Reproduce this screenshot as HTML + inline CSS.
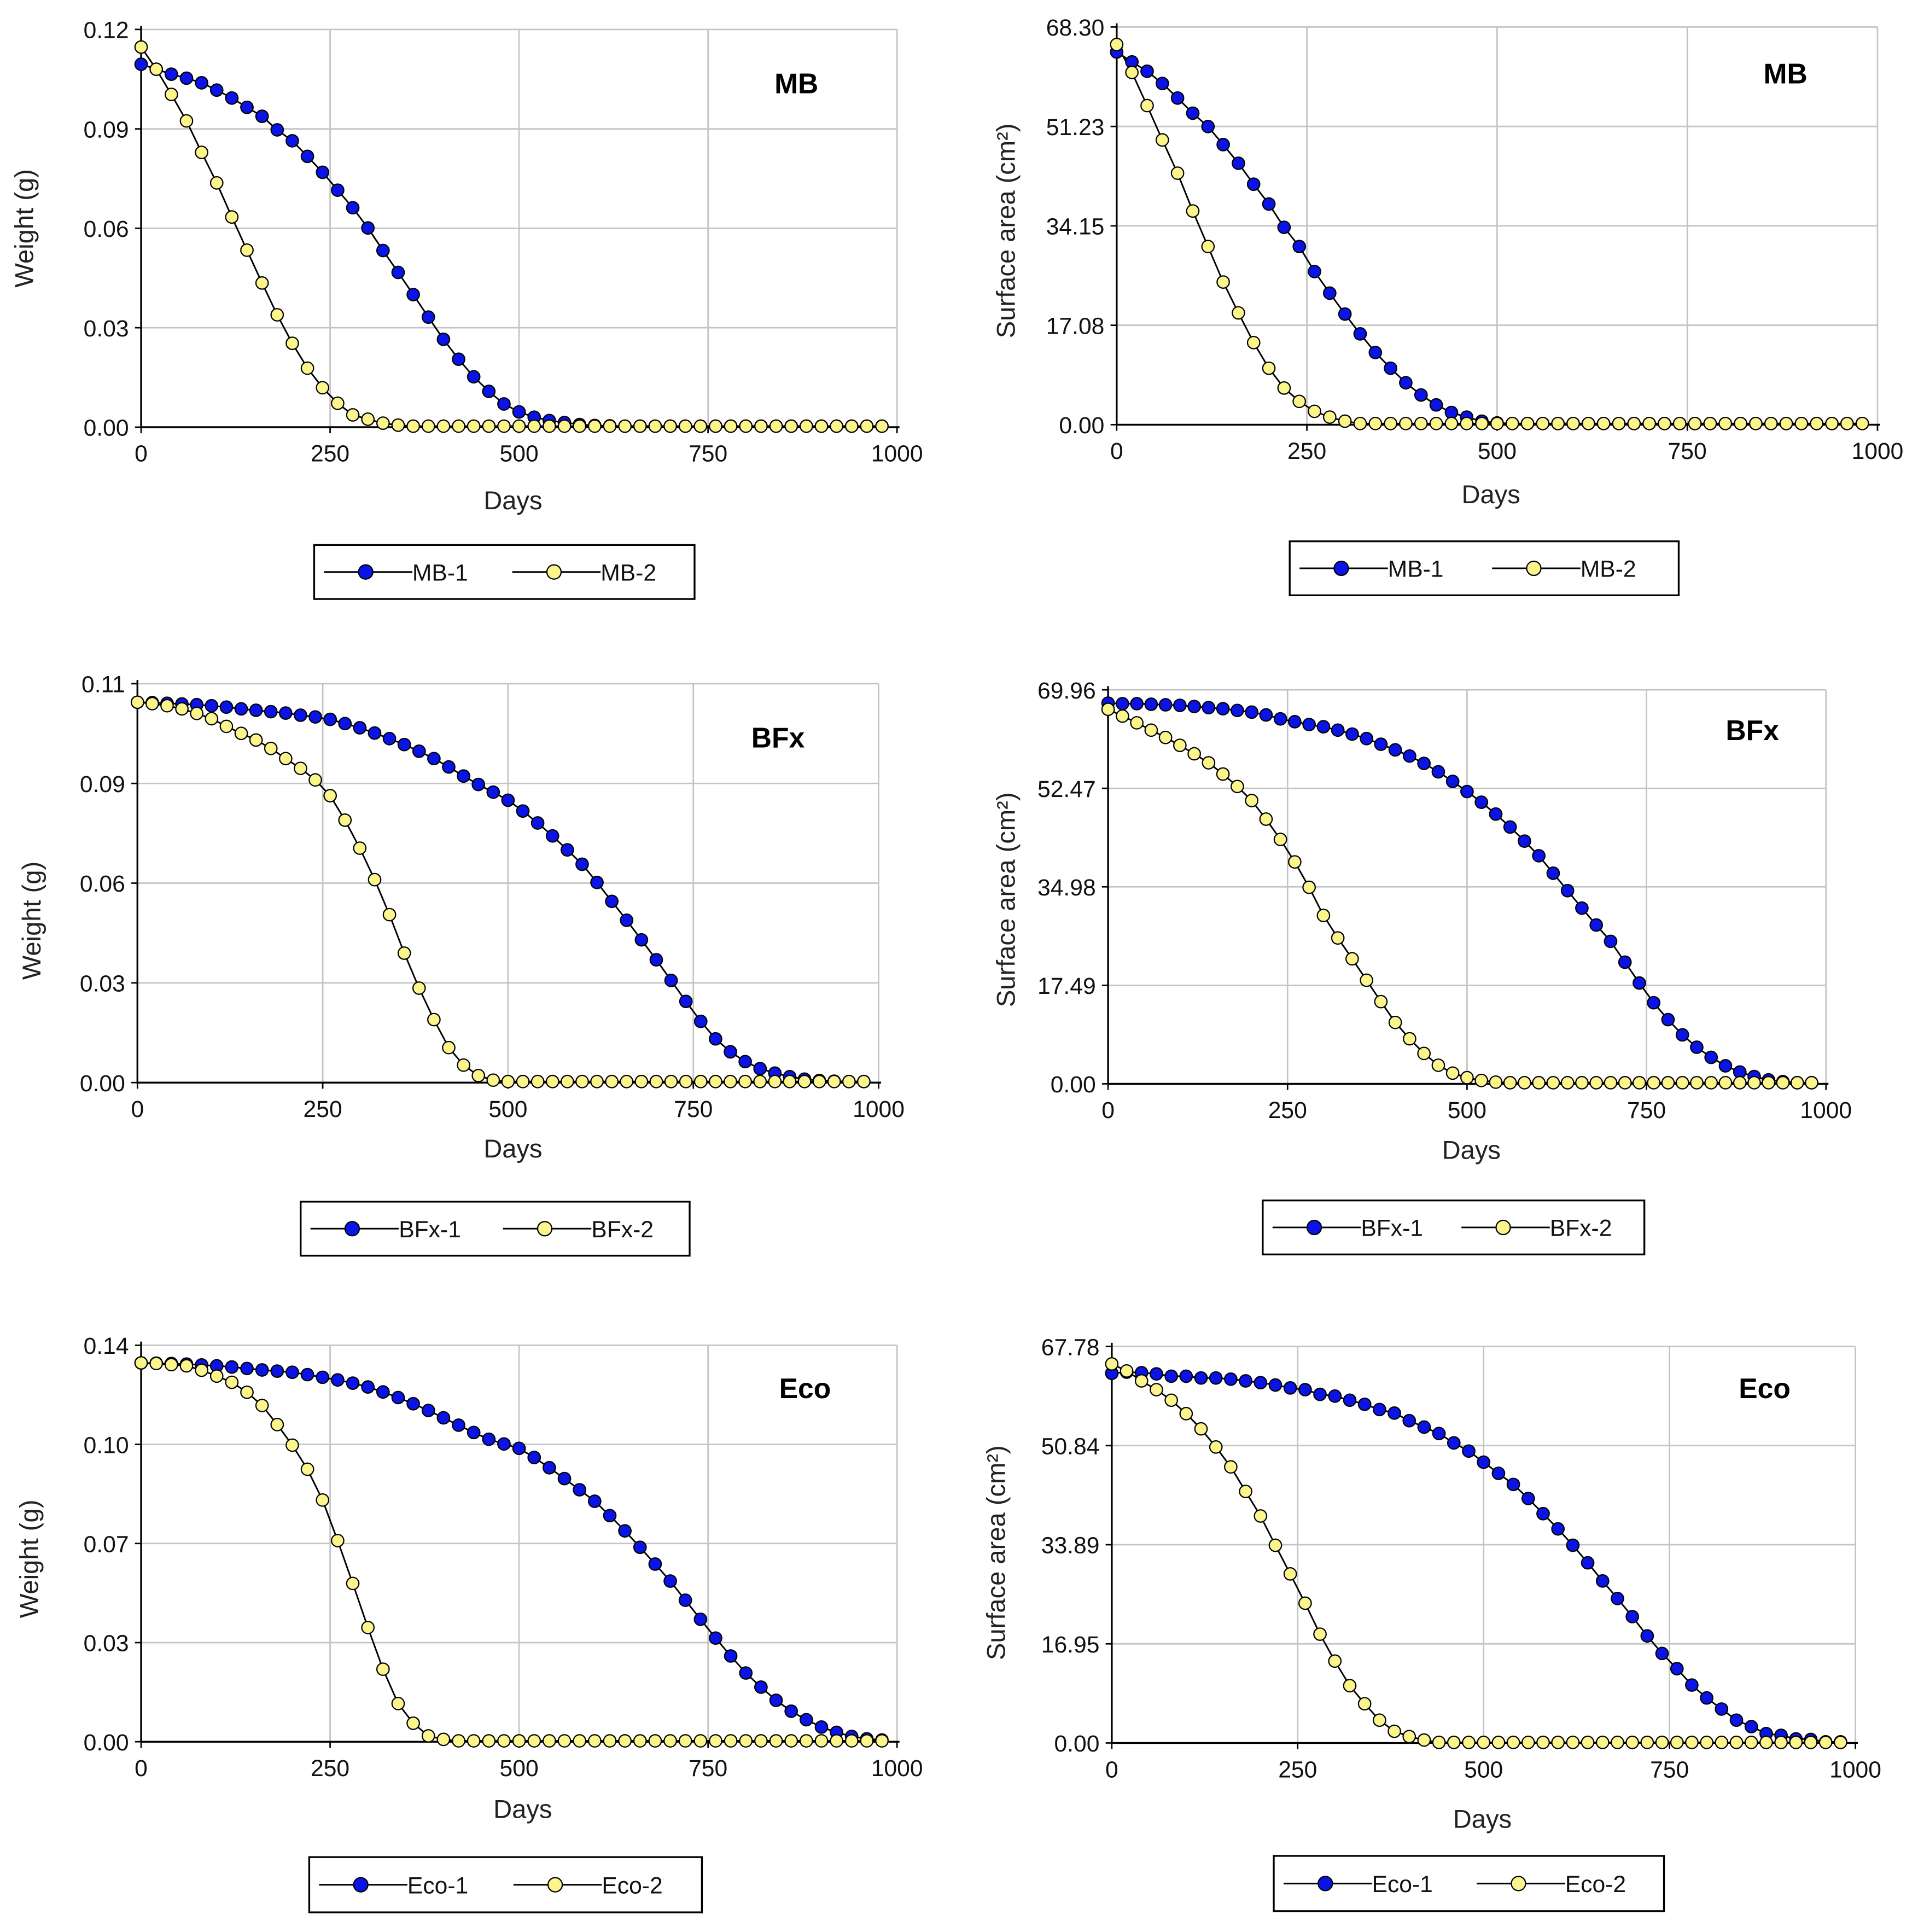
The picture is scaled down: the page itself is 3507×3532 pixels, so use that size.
<!DOCTYPE html>
<html><head><meta charset="utf-8"><style>
html,body{margin:0;padding:0;background:#fff}
svg{display:block}
text{font-family:"Liberation Sans Narrow","Liberation Sans",sans-serif}
</style></head><body>
<svg id="fig" width="3507" height="3532" viewBox="0 0 1563 1574" preserveAspectRatio="none" xmlns="http://www.w3.org/2000/svg"></svg>
<script>
const days = [0,20,40,60,80,100,120,140,160,180,200,220,240,260,280,300,320,340,360,380,400,420,440,460,480,500,520,540,560,580,600,620,640,660,680,700,720,740,760,780,800,820,840,860,880,900,920,940,960,980];
const xTicks = [0,250,500,750,1000];
const xTickLabels = ["0","250","500","750","1000"];

const mb1w = [0.1095,0.108,0.1065,0.1053,0.1039,0.1017,0.0993,0.0965,0.0938,0.0897,0.0864,0.0817,0.0769,0.0715,0.0662,0.0601,0.0533,0.0467,0.0400,0.0332,0.0265,0.0205,0.0152,0.0108,0.0070,0.0046,0.0030,0.0020,0.0014,0.0008,0.0005,0.0004,0.0003,0.0003,0.0003,0.0003,0.0003,0.0003,0.0003,0.0003,0.0003,0.0003,0.0003,0.0003,0.0003,0.0003,0.0003,0.0003,0.0003,0.0003];
const mb2w = [0.1147,0.108,0.1004,0.0924,0.0829,0.0737,0.0634,0.0534,0.0435,0.0339,0.0253,0.0178,0.0119,0.0072,0.0037,0.0024,0.0012,0.0006,0.0003,0.0003,0.0003,0.0003,0.0003,0.0003,0.0003,0.0003,0.0003,0.0003,0.0003,0.0003,0.0003,0.0003,0.0003,0.0003,0.0003,0.0003,0.0003,0.0003,0.0003,0.0003,0.0003,0.0003,0.0003,0.0003,0.0003,0.0003,0.0003,0.0003,0.0003,0.0003];
const mb1s = [64.0,62.3,60.7,58.6,56.1,53.5,51.2,48.1,44.9,41.3,37.9,33.9,30.6,26.3,22.6,19.0,15.6,12.4,9.7,7.2,5.1,3.4,2.1,1.3,0.6,0.3,0.2,0.2,0.2,0.2,0.2,0.2,0.2,0.2,0.2,0.2,0.2,0.2,0.2,0.2,0.2,0.2,0.2,0.2,0.2,0.2,0.2,0.2,0.2,0.2];
const mb2s = [65.3,60.5,54.8,48.9,43.2,36.7,30.6,24.5,19.2,14.1,9.7,6.3,4.0,2.3,1.3,0.6,0.2,0.2,0.2,0.2,0.2,0.2,0.2,0.2,0.2,0.2,0.2,0.2,0.2,0.2,0.2,0.2,0.2,0.2,0.2,0.2,0.2,0.2,0.2,0.2,0.2,0.2,0.2,0.2,0.2,0.2,0.2,0.2,0.2,0.2];
const bfx1w = [0.1087,0.1086,0.1084,0.1082,0.1080,0.1077,0.1073,0.1068,0.1064,0.1060,0.1056,0.1050,0.1045,0.1038,0.1026,0.1014,0.0999,0.0983,0.0966,0.0947,0.0926,0.0902,0.0876,0.0852,0.0830,0.0807,0.0776,0.0742,0.0705,0.0665,0.0624,0.0572,0.0518,0.0464,0.0408,0.0351,0.0292,0.0232,0.0175,0.0125,0.0088,0.0060,0.0040,0.0027,0.0017,0.0010,0.0006,0.0004,0.0003,0.0003];
const bfx2w = [0.1087,0.1083,0.1077,0.1068,0.1055,0.1040,0.1018,0.0998,0.0979,0.0955,0.0926,0.0898,0.0865,0.0820,0.0750,0.0670,0.0580,0.0480,0.0370,0.0270,0.0180,0.0100,0.0050,0.0020,0.0007,0.0003,0.0003,0.0003,0.0003,0.0003,0.0003,0.0003,0.0003,0.0003,0.0003,0.0003,0.0003,0.0003,0.0003,0.0003,0.0003,0.0003,0.0003,0.0003,0.0003,0.0003,0.0003,0.0003,0.0003,0.0003];
const bfx1s = [67.6,67.5,67.5,67.4,67.3,67.2,67.0,66.8,66.6,66.3,66.0,65.5,64.8,64.3,63.8,63.4,62.8,62.1,61.3,60.3,59.3,58.2,56.9,55.4,53.7,51.9,50.0,47.9,45.6,43.1,40.5,37.4,34.3,31.2,28.2,25.3,21.6,17.9,14.4,11.4,8.7,6.5,4.7,3.2,2.1,1.3,0.7,0.4,0.2,0.2];
const bfx2s = [66.5,65.3,64.1,62.8,61.5,60.1,58.6,57.0,55.0,52.8,50.3,47.0,43.4,39.4,34.9,29.9,25.9,22.2,18.4,14.6,10.9,8.0,5.4,3.3,1.9,1.1,0.6,0.3,0.2,0.2,0.2,0.2,0.2,0.2,0.2,0.2,0.2,0.2,0.2,0.2,0.2,0.2,0.2,0.2,0.2,0.2,0.2,0.2,0.2,0.2];
const eco1w = [0.1290,0.1289,0.1288,0.1286,0.1283,0.1280,0.1276,0.1271,0.1266,0.1262,0.1258,0.1250,0.1241,0.1232,0.1221,0.1208,0.1191,0.1172,0.1151,0.1128,0.1103,0.1078,0.1053,0.1030,0.1014,0.0999,0.0968,0.0933,0.0896,0.0858,0.0819,0.0770,0.0718,0.0662,0.0605,0.0547,0.0482,0.0417,0.0353,0.0292,0.0234,0.0186,0.0141,0.0104,0.0075,0.0050,0.0032,0.0018,0.0010,0.0006];
const eco2w = [0.1290,0.1288,0.1284,0.1280,0.1265,0.1245,0.1224,0.1190,0.1145,0.1080,0.1010,0.0928,0.0823,0.0685,0.0539,0.0389,0.0247,0.0130,0.0063,0.0020,0.0008,0.0003,0.0003,0.0003,0.0003,0.0003,0.0003,0.0003,0.0003,0.0003,0.0003,0.0003,0.0003,0.0003,0.0003,0.0003,0.0003,0.0003,0.0003,0.0003,0.0003,0.0003,0.0003,0.0003,0.0003,0.0003,0.0003,0.0003,0.0003,0.0003];
const eco1s = [63.2,63.4,63.3,63.1,62.7,62.7,62.4,62.4,62.2,61.9,61.6,61.2,60.7,60.4,59.6,59.3,58.6,57.9,57.0,56.4,55.1,54.0,52.9,51.3,49.9,48.0,46.1,44.2,41.8,39.2,36.6,33.8,30.8,27.7,24.7,21.6,18.3,15.3,12.7,9.9,7.7,5.8,3.9,2.8,1.6,1.3,0.7,0.6,0.2,0.2];
const eco2s = [64.8,63.6,61.9,60.4,58.6,56.3,53.7,50.6,47.2,43.0,38.8,33.8,28.9,23.9,18.6,14.0,9.8,6.7,3.9,2.0,1.1,0.5,0.1,0.1,0.1,0.1,0.1,0.1,0.1,0.1,0.1,0.1,0.1,0.1,0.1,0.1,0.1,0.1,0.1,0.1,0.1,0.1,0.1,0.1,0.1,0.1,0.1,0.1,0.1,0.1];

const yMaxes = [0.12,68.30,0.114,69.96,0.135,67.78];
const yTickLabelsMBw = ["0.00","0.03","0.06","0.09","0.12"];
const yTickLabelsMBs = ["0.00","17.08","34.15","51.23","68.30"];
const yTickLabelsBFw = ["0.00","0.03","0.06","0.09","0.11"];
const yTickLabelsBFs = ["0.00","17.49","34.98","52.47","69.96"];
const yTickLabelsEcow = ["0.00","0.03","0.07","0.10","0.14"];
const yTickLabelsEcos = ["0.00","16.95","33.89","50.84","67.78"];
const titles = ["MB","MB","BFx","BFx","Eco","Eco"];
const seriesNames = [["MB-1","MB-2"],["MB-1","MB-2"],["BFx-1","BFx-2"],["BFx-1","BFx-2"],["Eco-1","Eco-2"],["Eco-1","Eco-2"]];

const layouts = [
 {x0:115,x1:731,top:24,bot:348,tx:649,ty:68,ylx:20,yly:186,dx:418,dy:408,lg:[256,444,566,488],yl:"Weight (g)",data:[mb1w,mb2w],tl:yTickLabelsMBw},
 {x0:910,x1:1530,top:22,bot:346,tx:1455,ty:60,ylx:820,yly:188,dx:1215,dy:403,lg:[1051,441,1368,485],yl:"Surface area (cm²)",data:[mb1s,mb2s],tl:yTickLabelsMBs},
 {x0:112,x1:716,top:557,bot:882,tx:634,ty:601,ylx:26,yly:750,dx:418,dy:936,lg:[245,979,562,1023],yl:"Weight (g)",data:[bfx1w,bfx2w],tl:yTickLabelsBFw},
 {x0:903,x1:1488,top:562,bot:883,tx:1428,ty:595,ylx:820,yly:733,dx:1199,dy:937,lg:[1029,978,1340,1022],yl:"Surface area (cm²)",data:[bfx1s,bfx2s],tl:yTickLabelsBFs},
 {x0:115,x1:731,top:1096,bot:1419,tx:656,ty:1131,ylx:24,yly:1270,dx:426,dy:1474,lg:[252,1513,572,1558],yl:"Weight (g)",data:[eco1w,eco2w],tl:yTickLabelsEcow},
 {x0:906,x1:1512,top:1097,bot:1420,tx:1438,ty:1131,ylx:812,yly:1265,dx:1208,dy:1482,lg:[1038,1512,1356,1557],yl:"Surface area (cm²)",data:[eco1s,eco2s],tl:yTickLabelsEcos}
];
const colors = ["#0a14e6","#fbf58c"];
const NS="http://www.w3.org/2000/svg";
const svg=document.getElementById('fig');
function mk(tag,attrs,parent){const e=document.createElementNS(NS,tag);for(const k in attrs)e.setAttribute(k,attrs[k]);(parent||svg).appendChild(e);return e;}

layouts.forEach((L,ci)=>{
  const g=mk('g',{});
  
  
  const xs=d=>L.x0+(L.x1-L.x0)*d/1000;
  const ys=v=>L.bot-(L.bot-L.top)*v/yMaxes[ci];
  for(let i=1;i<=4;i++){
    const y=L.bot-(L.bot-L.top)*i/4;
    const gl=mk('line',{x1:L.x0,x2:L.x1,y1:y,y2:y,stroke:'#c4c4c4','stroke-width':1.2},g);
    
    
  }
  xTicks.forEach((t,i)=>{
    if(t>0){const vl=mk('line',{x1:xs(t),x2:xs(t),y1:L.top,y2:L.bot,stroke:'#c4c4c4','stroke-width':1.2},g);
      
      }
    mk('line',{x1:xs(t),x2:xs(t),y1:L.bot,y2:L.bot+5,stroke:'#000','stroke-width':1.2},g);
    const tx=mk('text',{x:xs(t),y:L.bot+28,'font-size':19,'text-anchor':'middle',fill:'#111'},g);
    tx.textContent=xTickLabels[i];
    
    
  });
  L.tl.forEach((lab,i)=>{
    const y=L.bot-(L.bot-L.top)*i/4;
    mk('line',{x1:L.x0-5,x2:L.x0,y1:y,y2:y,stroke:'#000','stroke-width':1.2},g);
    const tt=mk('text',{x:L.x0-10,y:y+7,'font-size':19,'text-anchor':'end',fill:'#111'},g);
    tt.textContent=lab;
    
    
  });
  const ya=mk('line',{x1:L.x0,x2:L.x0,y1:L.top-3,y2:L.bot,stroke:'#000','stroke-width':1.5},g);
  
  
  const xa=mk('line',{x1:L.x0,x2:L.x1+2,y1:L.bot,y2:L.bot,stroke:'#000','stroke-width':1.5},g);
  
  
  L.data.forEach((arr,si)=>{
    const pts=arr.map((v,i)=>xs(days[i]).toFixed(2)+','+ys(v).toFixed(2)).join(' ');
    const pl=mk('polyline',{points:pts,fill:'none',stroke:'#000','stroke-width':1.3},g);
    
    
  });
  L.data.forEach((arr,si)=>{
    arr.forEach((v,i)=>{
      const c=mk('circle',{cx:xs(days[i]),cy:ys(v),r:5,fill:colors[si],stroke:'#000','stroke-width':1},g);
      
      
    });
  });
  const t=mk('text',{x:L.tx,y:L.ty+8,'font-size':23,'font-weight':'bold','text-anchor':'middle',fill:'#000',style:'font-family:"Liberation Sans",sans-serif'},g);
  t.textContent=titles[ci];
  
  
  const yl=mk('text',{x:0,y:0,'font-size':21,'text-anchor':'middle',fill:'#222',transform:`translate(${L.ylx+7},${L.yly}) rotate(-90)`,style:'font-family:"Liberation Sans",sans-serif'},g);
  yl.textContent=L.yl;
  
  
  const xl=mk('text',{x:L.dx,y:L.dy+7,'font-size':21,'text-anchor':'middle',fill:'#222',style:'font-family:"Liberation Sans",sans-serif'},g);
  xl.textContent='Days';
  
  
  const [lx0,ly0,lx1,ly1]=L.lg;
  const lg=mk('g',{},g);
  
  
  mk('rect',{x:lx0,y:ly0,width:lx1-lx0,height:ly1-ly0,fill:'#fff',stroke:'#000','stroke-width':1.5},lg);
  const w=lx1-lx0, cy=(ly0+ly1)/2;
  [0,1].forEach(si=>{
    const bx=lx0+8+si*w*0.495;
    const ent=mk('g',{},lg);
    
    
    mk('line',{x1:bx,x2:bx+72,y1:cy,y2:cy,stroke:'#000','stroke-width':1.3},ent);
    mk('circle',{cx:bx+34,cy:cy,r:5.8,fill:colors[si],stroke:'#000','stroke-width':1},ent);
    const lt=mk('text',{x:bx+72,y:cy+7,'font-size':19,fill:'#111'},ent);
    lt.textContent=seriesNames[ci][si];
  });
});
</script>
</body></html>
